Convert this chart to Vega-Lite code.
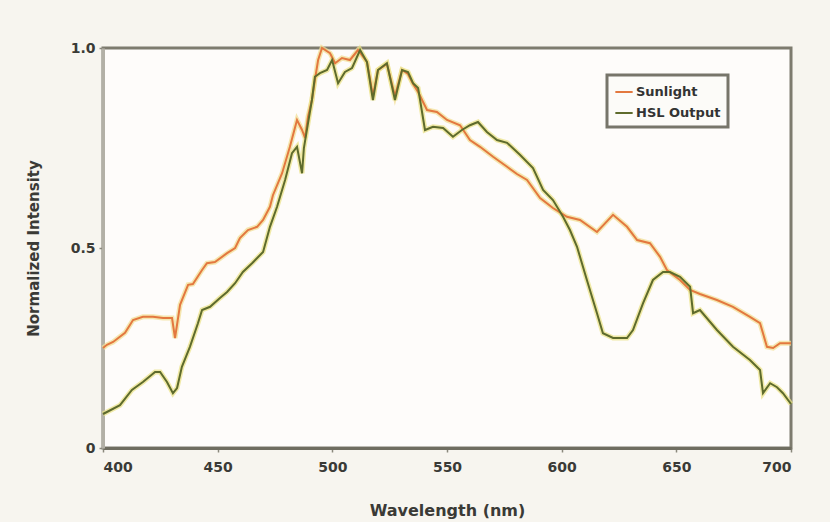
{
  "$schema": "https://vega.github.io/schema/vega-lite/v6.json",
  "width": 688,
  "height": 400,
  "autosize": "none",
  "padding": {"left": 103, "top": 48, "right": 39, "bottom": 74},
  "background": "#f7f5ef",
  "config": {
    "view": {"fill": "#fefcfa", "stroke": "#7d7b6e", "strokeWidth": 3},
    "font": "DejaVu Sans"
  },
  "datasets": {
    "sun": [
      {"wl": 400, "v": 0.25}, {"wl": 401.7, "v": 0.258}, {"wl": 404.4, "v": 0.265}, {"wl": 409.6, "v": 0.288},
      {"wl": 413.1, "v": 0.32}, {"wl": 417.4, "v": 0.328}, {"wl": 421.8, "v": 0.328}, {"wl": 426.2, "v": 0.325},
      {"wl": 430.1, "v": 0.325}, {"wl": 431.4, "v": 0.275}, {"wl": 433.6, "v": 0.358}, {"wl": 437.1, "v": 0.408},
      {"wl": 439.2, "v": 0.41}, {"wl": 443.2, "v": 0.445}, {"wl": 445.3, "v": 0.462}, {"wl": 448.8, "v": 0.465},
      {"wl": 454.1, "v": 0.487}, {"wl": 457.6, "v": 0.5}, {"wl": 459.7, "v": 0.525}, {"wl": 463.2, "v": 0.545},
      {"wl": 467.2, "v": 0.553}, {"wl": 469.8, "v": 0.57}, {"wl": 472.8, "v": 0.603}, {"wl": 474.1, "v": 0.632},
      {"wl": 478.1, "v": 0.687}, {"wl": 481.5, "v": 0.753}, {"wl": 484.6, "v": 0.82}, {"wl": 486.8, "v": 0.795},
      {"wl": 488.1, "v": 0.775}, {"wl": 489.4, "v": 0.828}, {"wl": 491.1, "v": 0.87}, {"wl": 492.4, "v": 0.92},
      {"wl": 493.8, "v": 0.97}, {"wl": 495.5, "v": 1.0}, {"wl": 499.0, "v": 0.987}, {"wl": 501.2, "v": 0.962},
      {"wl": 504.2, "v": 0.975}, {"wl": 507.7, "v": 0.97}, {"wl": 511.2, "v": 0.995}, {"wl": 515.1, "v": 0.965},
      {"wl": 517.7, "v": 0.88}, {"wl": 519.9, "v": 0.945}, {"wl": 523.8, "v": 0.96}, {"wl": 527.3, "v": 0.88},
      {"wl": 530.4, "v": 0.945}, {"wl": 533.0, "v": 0.935}, {"wl": 535.2, "v": 0.91}, {"wl": 537.4, "v": 0.89},
      {"wl": 541.3, "v": 0.845}, {"wl": 545.6, "v": 0.84}, {"wl": 550.0, "v": 0.82}, {"wl": 555.7, "v": 0.807},
      {"wl": 560.0, "v": 0.77}, {"wl": 564.4, "v": 0.753}, {"wl": 570.1, "v": 0.728}, {"wl": 576.2, "v": 0.703},
      {"wl": 580.5, "v": 0.685}, {"wl": 584.9, "v": 0.67}, {"wl": 590.6, "v": 0.625}, {"wl": 596.2, "v": 0.6},
      {"wl": 602.3, "v": 0.578}, {"wl": 608.0, "v": 0.57}, {"wl": 615.4, "v": 0.54}, {"wl": 622.4, "v": 0.583},
      {"wl": 628.5, "v": 0.553}, {"wl": 632.9, "v": 0.52}, {"wl": 638.5, "v": 0.512}, {"wl": 642.9, "v": 0.478},
      {"wl": 645.9, "v": 0.445}, {"wl": 651.6, "v": 0.42}, {"wl": 656.0, "v": 0.395}, {"wl": 660.3, "v": 0.385},
      {"wl": 667.7, "v": 0.37}, {"wl": 674.7, "v": 0.353}, {"wl": 682.1, "v": 0.328}, {"wl": 686.5, "v": 0.312},
      {"wl": 689.5, "v": 0.253}, {"wl": 692.2, "v": 0.25}, {"wl": 695.2, "v": 0.262}, {"wl": 700.0, "v": 0.262}
    ],
    "hsl": [
      {"wl": 400, "v": 0.085}, {"wl": 401.7, "v": 0.09}, {"wl": 407.4, "v": 0.107}, {"wl": 412.6, "v": 0.145},
      {"wl": 417.4, "v": 0.165}, {"wl": 422.7, "v": 0.19}, {"wl": 424.9, "v": 0.19}, {"wl": 427.9, "v": 0.165},
      {"wl": 430.5, "v": 0.137}, {"wl": 432.3, "v": 0.15}, {"wl": 434.4, "v": 0.203}, {"wl": 437.9, "v": 0.253},
      {"wl": 441.4, "v": 0.312}, {"wl": 443.2, "v": 0.345}, {"wl": 446.7, "v": 0.353}, {"wl": 451.0, "v": 0.375},
      {"wl": 454.1, "v": 0.39}, {"wl": 457.6, "v": 0.412}, {"wl": 461.0, "v": 0.44}, {"wl": 465.0, "v": 0.462},
      {"wl": 469.8, "v": 0.49}, {"wl": 472.8, "v": 0.553}, {"wl": 475.9, "v": 0.603}, {"wl": 479.4, "v": 0.67},
      {"wl": 482.4, "v": 0.737}, {"wl": 484.6, "v": 0.753}, {"wl": 486.8, "v": 0.687}, {"wl": 487.6, "v": 0.75},
      {"wl": 489.4, "v": 0.812}, {"wl": 491.1, "v": 0.87}, {"wl": 492.4, "v": 0.928}, {"wl": 494.6, "v": 0.937},
      {"wl": 497.7, "v": 0.945}, {"wl": 499.9, "v": 0.97}, {"wl": 502.5, "v": 0.912}, {"wl": 505.5, "v": 0.94},
      {"wl": 508.6, "v": 0.95}, {"wl": 512.1, "v": 0.995}, {"wl": 515.1, "v": 0.965}, {"wl": 517.7, "v": 0.87},
      {"wl": 519.9, "v": 0.945}, {"wl": 523.8, "v": 0.962}, {"wl": 527.3, "v": 0.87}, {"wl": 530.4, "v": 0.945},
      {"wl": 533.0, "v": 0.94}, {"wl": 535.2, "v": 0.912}, {"wl": 537.4, "v": 0.9}, {"wl": 540.4, "v": 0.795},
      {"wl": 543.9, "v": 0.803}, {"wl": 548.3, "v": 0.8}, {"wl": 552.6, "v": 0.778}, {"wl": 556.5, "v": 0.795},
      {"wl": 560.0, "v": 0.807}, {"wl": 563.5, "v": 0.815}, {"wl": 567.4, "v": 0.79}, {"wl": 571.8, "v": 0.77},
      {"wl": 576.2, "v": 0.763}, {"wl": 581.8, "v": 0.733}, {"wl": 587.5, "v": 0.7}, {"wl": 591.9, "v": 0.645},
      {"wl": 596.2, "v": 0.62}, {"wl": 600.6, "v": 0.578}, {"wl": 603.6, "v": 0.545}, {"wl": 606.7, "v": 0.503},
      {"wl": 611.0, "v": 0.42}, {"wl": 615.4, "v": 0.337}, {"wl": 618.0, "v": 0.287}, {"wl": 622.4, "v": 0.275},
      {"wl": 628.5, "v": 0.275}, {"wl": 631.1, "v": 0.295}, {"wl": 635.5, "v": 0.362}, {"wl": 639.8, "v": 0.42},
      {"wl": 644.2, "v": 0.44}, {"wl": 647.2, "v": 0.44}, {"wl": 651.6, "v": 0.428}, {"wl": 656.0, "v": 0.403},
      {"wl": 657.3, "v": 0.337}, {"wl": 660.3, "v": 0.345}, {"wl": 667.7, "v": 0.295}, {"wl": 674.7, "v": 0.253},
      {"wl": 682.1, "v": 0.22}, {"wl": 686.5, "v": 0.195}, {"wl": 687.8, "v": 0.137}, {"wl": 690.9, "v": 0.162},
      {"wl": 693.9, "v": 0.152}, {"wl": 696.5, "v": 0.137}, {"wl": 700.0, "v": 0.11}
    ]
  },
  "layer": [
    {
      "data": {"name": "sun"},
      "mark": {"type": "line", "strokeWidth": 5, "color": "#f2df95", "opacity": 0.75},
      "encoding": {
        "x": {"field": "wl", "type": "quantitative"},
        "y": {"field": "v", "type": "quantitative"}
      }
    },
    {
      "data": {"name": "hsl"},
      "mark": {"type": "line", "strokeWidth": 5, "color": "#ebe38a", "opacity": 0.75},
      "encoding": {
        "x": {"field": "wl", "type": "quantitative"},
        "y": {"field": "v", "type": "quantitative"}
      }
    },
    {
      "data": {"name": "sun"},
      "transform": [{"calculate": "'Sunlight'", "as": "s"}],
      "mark": {"type": "line", "strokeWidth": 2},
      "encoding": {
        "x": {"field": "wl", "type": "quantitative"},
        "y": {"field": "v", "type": "quantitative"},
        "color": {"field": "s", "type": "nominal"}
      }
    },
    {
      "data": {"name": "hsl"},
      "transform": [{"calculate": "'HSL Output'", "as": "s"}],
      "mark": {"type": "line", "strokeWidth": 2},
      "encoding": {
        "x": {
          "field": "wl", "type": "quantitative",
          "scale": {"domain": [400, 700], "nice": false},
          "axis": {
            "values": [400, 450, 500, 550, 600, 650, 700],
            "title": "Wavelength (nm)",
            "domainColor": "#6f6d60", "domainWidth": 3,
            "tickColor": "#8a887c", "tickSize": 4, "tickWidth": 1.5,
            "labelFont": "DejaVu Sans", "labelFontSize": 14, "labelFontWeight": "bold", "labelColor": "#3a3a36",
            "labelPadding": 8, "grid": false,
            "titleFont": "DejaVu Sans", "titleFontSize": 16, "titleFontWeight": "bold", "titleColor": "#3a3a36",
            "titleY": 62, "titleBaseline": "middle"
          }
        },
        "y": {
          "field": "v", "type": "quantitative",
          "scale": {"domain": [0, 1], "nice": false},
          "axis": {
            "values": [0, 0.5, 1],
            "labelExpr": "datum.value == 0 ? '0' : format(datum.value, '.1f')",
            "title": "Normalized Intensity",
            "domainColor": "#b3b0a6", "domainWidth": 3,
            "tickColor": "#8a887c", "tickSize": 4, "tickWidth": 1.5,
            "labelFont": "DejaVu Sans", "labelFontSize": 14, "labelFontWeight": "bold", "labelColor": "#3a3a36",
            "labelPadding": 4, "grid": false,
            "titleFont": "DejaVu Sans", "titleFontSize": 15, "titleFontWeight": "bold", "titleColor": "#3a3a36",
            "titleX": -70, "titleY": 200, "titleAlign": "center", "titleBaseline": "middle", "titleAngle": -90
          }
        },
        "color": {
          "field": "s", "type": "nominal",
          "scale": {"domain": ["Sunlight", "HSL Output"], "range": ["#e3783f", "#5e6b2c"]},
          "legend": {
            "orient": "none", "legendX": 504, "legendY": 27,
            "title": null,
            "symbolType": "stroke", "symbolSize": 300, "symbolStrokeWidth": 2,
            "labelFont": "DejaVu Sans", "labelFontSize": 13, "labelFontWeight": "bold", "labelColor": "#333",
            "strokeColor": "#77756a", "fillColor": "#fcfbf8",
            "padding": 7, "rowPadding": 4, "labelOffset": 2,
            "encode": {"legend": {"update": {"strokeWidth": {"value": 3}}}}
          }
        }
      }
    }
  ]
}
